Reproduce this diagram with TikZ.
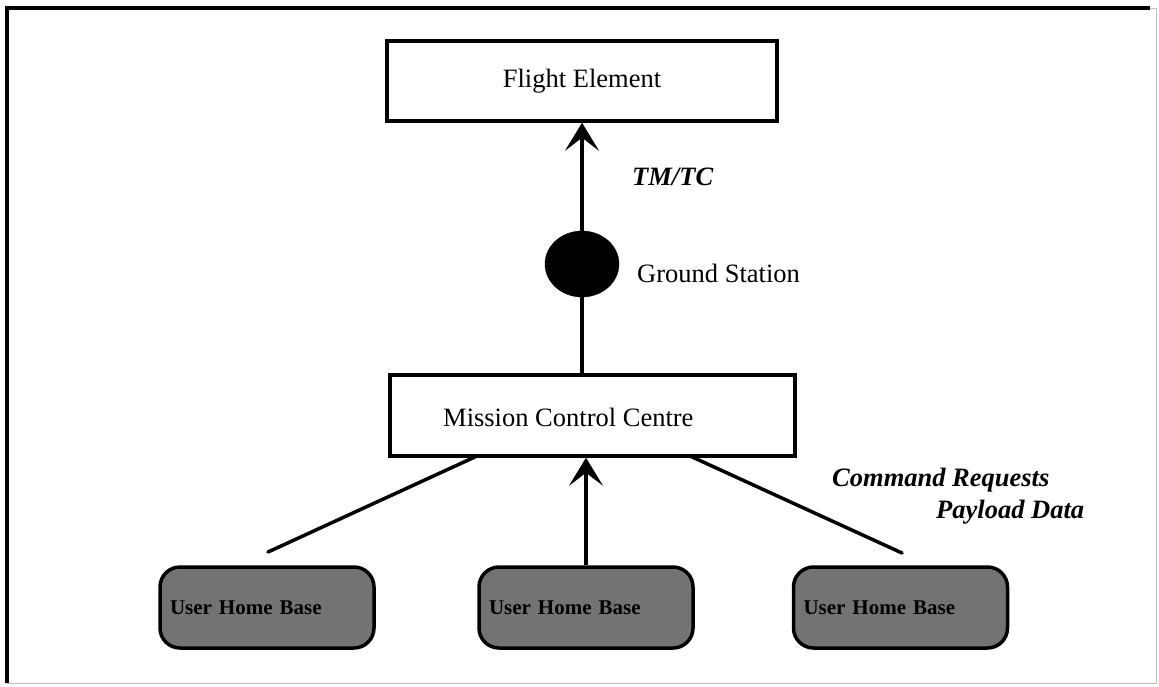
\documentclass[tikz,border=0pt]{standalone}
\usepackage{fontspec}
\setmainfont{Liberation Serif}
\usetikzlibrary{arrows.meta,shapes.geometric}
\tikzset{
  box/.style={draw=black, line width=3.5pt, rectangle, inner sep=0pt, fill=white},
  userbox/.style={draw=black, line width=3.5pt, rectangle, rounded corners=20pt, fill=black!55,
    minimum height=81pt, text width=194pt, inner xsep=10pt, inner ysep=0pt, align=left,
    font=\fontsize{21}{24}\selectfont\bfseries},
  conn/.style={line width=3.5pt},
  arr/.style={line width=3.5pt, -{Stealth[length=28pt,width=34pt,inset=13pt]}},
  lbl/.style={anchor=west, inner sep=0pt, font=\fontsize{26.5}{30}\selectfont},
  ilbl/.style={lbl, font=\fontsize{26.5}{30}\selectfont\bfseries\itshape},
  main/.style={font=\fontsize{26.5}{30}\selectfont}
}
\begin{document}
\begin{tikzpicture}[x=1pt,y=-1pt]
\useasboundingbox (0,0) rectangle (1159,686);
% frame
\draw[line width=3.5pt] (7,683) -- (7,8) -- (1150,8);
\draw[line width=0.8pt, black!25] (1150,8) -- (1156,8) -- (1156,683) -- (7,683);
% nodes
\node[box, main, minimum width=390pt, minimum height=80pt] (fe) at (582,81) {Flight Element};
\node[ellipse, fill=black, draw=black, minimum width=74pt, minimum height=66pt, inner sep=0pt] (gs) at (582,264) {};
\node[box, minimum width=405pt, minimum height=81pt] (mcc) at (592.5,415.5) {};
\node[lbl] (mcct) at (443,417) {Mission Control Centre};
\node[userbox] (u1) at (267,607.5) {User Home Base};
\node[userbox] (u2) at (586,607.5) {User Home Base};
\node[userbox] (u3) at (900.5,607.5) {User Home Base};
% labels
\node[ilbl] (tmtc) at (632,177) {TM/TC};
\node[lbl] (gsl) at (637,273) {Ground Station};
\node[ilbl] (cr) at (832,480) {Command Requests};
\node[ilbl] (pd) at (936,512) {Payload Data};
% connector end points
\coordinate (mccL) at (477,456);
\coordinate (mccR) at (690,456);
\coordinate (u1end) at (268,552);
\coordinate (u3end) at (902,553);
% connectors
\draw[arr] (gs.north) -- (gs.north |- fe.south);
\draw[conn] (gs.south) -- (gs.south |- mcc.north);
\draw[conn, line cap=round] (u1end) -- (mccL);
\draw[arr] (u2.north) -- (u2.north |- mcc.south);
\draw[conn, line cap=round] (mccR) -- (u3end);
\end{tikzpicture}
\end{document}
